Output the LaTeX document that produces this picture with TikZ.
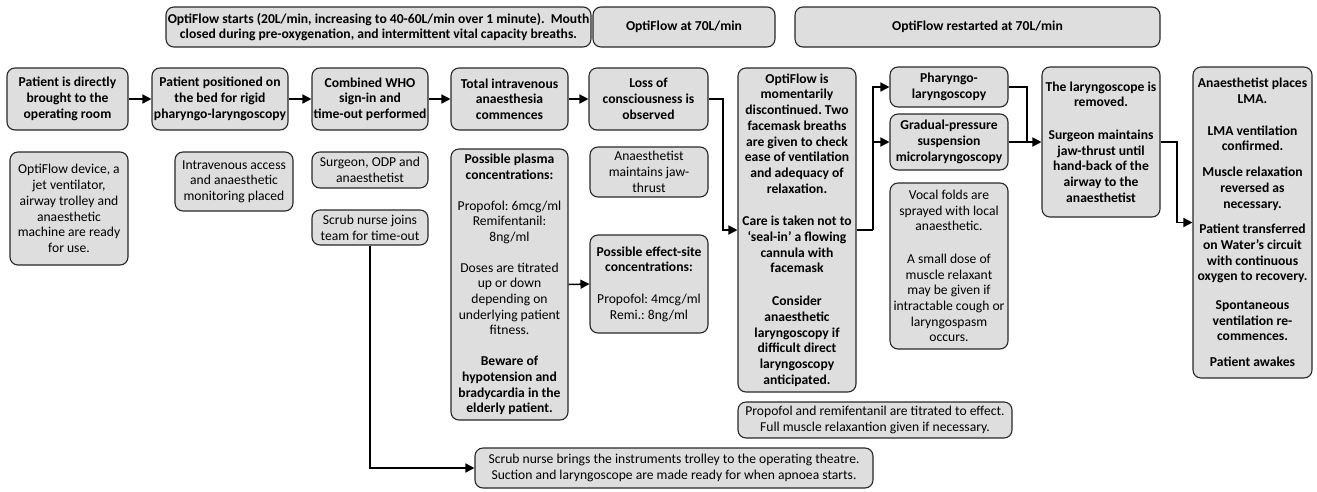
\documentclass[tikz,border=0pt]{standalone}
\usepackage{fontspec}
\setmainfont{Carlito}
\frenchspacing
\usetikzlibrary{arrows.meta}
\definecolor{boxfill}{RGB}{222,222,222}
\definecolor{boxline}{RGB}{40,40,40}
\tikzset{
  box/.style={draw=boxline, fill=boxfill, line width=1.1pt, rounded corners=8pt,
    align=center, inner sep=1.5pt, font=\fontsize{13.6}{15.7}\selectfont\frenchspacing},
  bbox/.style={box, font=\fontsize{13.6}{15.7}\selectfont\bfseries\frenchspacing},
  conn/.style={line width=1.5pt, black},
  arr/.style={conn, -{Triangle[length=9pt,width=9pt]}}
}
\begin{document}
\begin{tikzpicture}[x=1pt,y=-1pt]
\useasboundingbox (0,0) rectangle (1317,491);
% top banners
\node[bbox, minimum width=425pt, minimum height=40pt] (T1) at (378.5,27) {OptiFlow starts (20L/min, increasing to 40-60L/min over 1 minute).\ \ Mouth\\closed during pre-oxygenation, and intermittent vital capacity breaths.};
\node[bbox, minimum width=182pt, minimum height=40pt] (T2) at (684,27) {OptiFlow at 70L/min};
\node[bbox, minimum width=365pt, minimum height=40pt] (T3) at (977.5,27) {OptiFlow restarted at 70L/min};
% main row
\node[bbox, minimum width=121pt, minimum height=62pt] (A1) at (67.5,99) {Patient is directly\\brought to the\\operating room};
\node[bbox, minimum width=136pt, minimum height=62pt] (A2) at (220,99) {Patient positioned on\\the bed for rigid\\pharyngo-laryngoscopy};
\node[bbox, minimum width=116pt, minimum height=62pt] (A3) at (370,99) {Combined WHO\\sign-in and\\time-out performed};
\node[bbox, minimum width=117pt, minimum height=62pt] (A4) at (509.5,99) {Total intravenous\\anaesthesia\\commences};
\node[bbox, minimum width=119pt, minimum height=62pt] (A5) at (648.5,99) {Loss of\\consciousness is\\observed};
\node[bbox, minimum width=118pt, minimum height=324pt] (A6) at (797,230) {OptiFlow is\\momentarily\\discontinued. Two\\facemask breaths\\are given to check\\ease of ventilation\\and adequacy of\\relaxation.\\[17pt]Care is taken not to\\‘seal-in’ a flowing\\cannula with\\facemask\\[17pt]Consider\\anaesthetic\\laryngoscopy if\\difficult direct\\laryngoscopy\\anticipated.};
\node[bbox, minimum width=118pt, minimum height=40pt] (B1) at (949,87) {Pharyngo-\\laryngoscopy};
\node[bbox, minimum width=118pt, minimum height=56pt] (B2) at (949,142) {Gradual-pressure\\suspension\\microlaryngoscopy};
\node[box, minimum width=118pt, minimum height=166pt] (B3) at (949,266) {Vocal folds are\\sprayed with local\\anaesthetic.\\[17pt]A small dose of\\muscle relaxant\\may be given if\\intractable cough or\\laryngospasm\\occurs.};
\node[bbox, minimum width=118pt, minimum height=150pt] (C1) at (1101,142) {The laryngoscope is\\removed.\\[17pt]Surgeon maintains\\jaw-thrust until\\hand-back of the\\airway to the\\anaesthetist};
\node[bbox, minimum width=119pt, minimum height=311pt] (D1) at (1252.5,222.5) {Anaesthetist places\\LMA.\\[16pt]LMA ventilation\\confirmed.\\[10pt]Muscle relaxation\\reversed as\\necessary.\\[10pt]Patient transferred\\on Water’s circuit\\with continuous\\oxygen to recovery.\\[13pt]Spontaneous\\ventilation re-\\commences.\\[10pt]Patient awakes};
% second row
\node[box, minimum width=118pt, minimum height=113pt] (S1) at (69,208.5) {OptiFlow device, a\\jet ventilator,\\airway trolley and\\anaesthetic\\machine are ready\\for use.};
\node[box, minimum width=118pt, minimum height=59pt] (S2) at (234,181.5) {Intravenous access\\and anaesthetic\\monitoring placed};
\node[box, minimum width=116pt, minimum height=36pt] (S3) at (370,170) {Surgeon, ODP and\\anaesthetist};
\node[box, minimum width=116pt, minimum height=35pt] (S4) at (370,227.5) {Scrub nurse joins\\team for time-out};
\node[box, minimum width=117pt, minimum height=271pt] (S5) at (509.5,284.5) {\textbf{Possible plasma}\\\textbf{concentrations:}\\[15pt]Propofol: 6mcg/ml\\Remifentanil:\\8ng/ml\\[15pt]Doses are titrated\\up or down\\depending on\\underlying patient\\fitness.\\[15pt]\textbf{Beware of}\\\textbf{hypotension and}\\\textbf{bradycardia in the}\\\textbf{elderly patient.}};
\node[box, minimum width=118pt, minimum height=50pt] (S6) at (649,172) {Anaesthetist\\maintains jaw-\\thrust};
\node[box, minimum width=118pt, minimum height=98pt] (S7) at (649,284) {\textbf{Possible effect-site}\\\textbf{concentrations:}\\[16pt]Propofol: 4mcg/ml\\Remi.: 8ng/ml};
\node[box, minimum width=274pt, minimum height=36pt] (P1) at (875,420) {Propofol and remifentanil are titrated to effect.\\Full muscle relaxantion given if necessary.};
\node[box, minimum width=398pt, minimum height=40pt] (N1) at (674,468) {Scrub nurse brings the instruments trolley to the operating theatre.\\Suction and laryngoscope are made ready for when apnoea starts.};
% connectors
\draw[arr] (A1.east) -- (A2.west);
\draw[arr] (A2.east) -- (A3.west);
\draw[arr] (A3.east) -- (A4.west);
\draw[arr] (A4.east) -- (A5.west);
\coordinate (k1) at (723,99);
\draw[arr] (A5.east) -- (k1) |- (A6.west);
\coordinate (j1) at (873,230);
\draw[conn] (A6.east) -- (j1);
\draw[arr] (j1) |- (B1.west);
\draw[arr] (j1) |- (B2.west);
\coordinate (j2) at (1027,142);
\draw[conn] (B1.east) -| (j2);
\draw[arr] (B2.east) -- (C1.west);
\coordinate (j3) at (1177,142);
\draw[arr] (C1.east) -- (j3) |- (D1.west);
\draw[arr] (S5.east) -- (S7.west);
\coordinate (j4) at (370,468);
\draw[arr] (S4.south) -- (j4) -- (N1.west);
\end{tikzpicture}
\end{document}
